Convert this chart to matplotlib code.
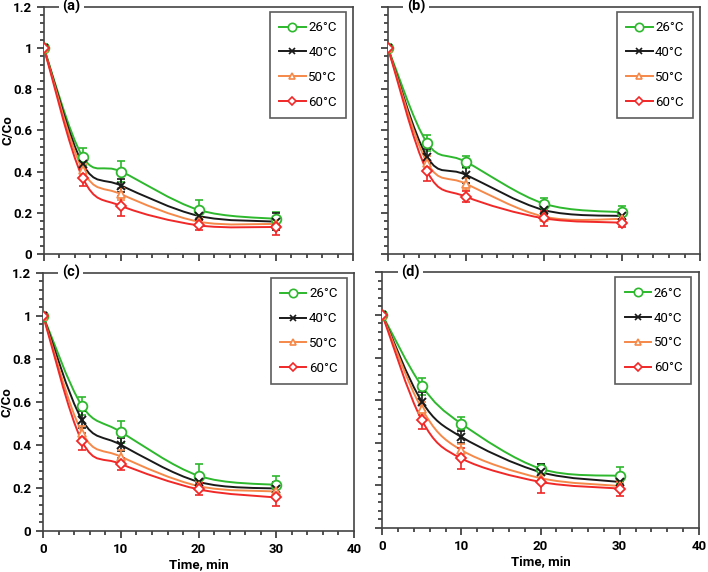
import numpy as np
import matplotlib
matplotlib.use("Agg")
import matplotlib.pyplot as plt
from matplotlib.path import Path
from matplotlib.patches import PathPatch
from matplotlib.ticker import MultipleLocator

plt.rcParams['font.family'] = ['Roboto', 'DejaVu Sans']
plt.rcParams['font.weight'] = 'bold'

# ---------------------------------------------------- data ------------------------------------------------------------
time = [0, 5, 10, 20, 30]
temps = ['26°C', '40°C', '50°C', '60°C']
panels = ['(a)', '(b)', '(c)', '(d)']

# C/Co values, one list per temperature, per panel
a_26 = [1, 0.473, 0.400, 0.214, 0.170]
a_40 = [1, 0.438, 0.332, 0.185, 0.157]
a_50 = [1, 0.409, 0.290, 0.157, 0.146]
a_60 = [1, 0.371, 0.233, 0.139, 0.131]

b_26 = [1, 0.540, 0.447, 0.244, 0.202]
b_40 = [1, 0.472, 0.384, 0.213, 0.184]
b_50 = [1, 0.444, 0.341, 0.181, 0.170]
b_60 = [1, 0.402, 0.278, 0.173, 0.152]

c_26 = [1, 0.581, 0.460, 0.256, 0.213]
c_40 = [1, 0.516, 0.400, 0.228, 0.196]
c_50 = [1, 0.457, 0.345, 0.208, 0.183]
c_60 = [1, 0.416, 0.311, 0.193, 0.155]

d_26 = [1, 0.666, 0.489, 0.278, 0.244]
d_40 = [1, 0.593, 0.427, 0.262, 0.216]
d_50 = [1, 0.559, 0.365, 0.234, 0.197]
d_60 = [1, 0.505, 0.326, 0.216, 0.185]

# error bars (+/-)
a_26_err = [0, 0.040, 0.050, 0.050, 0.035]
a_40_err = [0, 0.030, 0.030, 0.020, 0.040]
a_50_err = [0, 0.030, 0.030, 0.020, 0.020]
a_60_err = [0, 0.040, 0.048, 0.025, 0.040]

b_26_err = [0, 0.040, 0.030, 0.027, 0.032]
b_40_err = [0, 0.037, 0.040, 0.020, 0.025]
b_50_err = [0, 0.030, 0.030, 0.020, 0.020]
b_60_err = [0, 0.050, 0.028, 0.037, 0.020]

c_26_err = [0, 0.040, 0.050, 0.055, 0.040]
c_40_err = [0, 0.040, 0.030, 0.020, 0.030]
c_50_err = [0, 0.030, 0.030, 0.020, 0.020]
c_60_err = [0, 0.040, 0.030, 0.028, 0.040]

d_26_err = [0, 0.040, 0.030, 0.020, 0.040]
d_40_err = [0, 0.047, 0.030, 0.040, 0.020]
d_50_err = [0, 0.030, 0.030, 0.020, 0.020]
d_60_err = [0, 0.042, 0.050, 0.053, 0.037]

values = [[a_26, a_40, a_50, a_60], [b_26, b_40, b_50, b_60],
          [c_26, c_40, c_50, c_60], [d_26, d_40, d_50, d_60]]
errors = [[a_26_err, a_40_err, a_50_err, a_60_err], [b_26_err, b_40_err, b_50_err, b_60_err],
          [c_26_err, c_40_err, c_50_err, c_60_err], [d_26_err, d_40_err, d_50_err, d_60_err]]

colors = ['#2db82d', '#1a1a1a', '#f5894a', '#f02828']
markers = ['o', 'x', '^', 'D']
msizes = [7, 6, 6, 5]


def smooth_path(x, y):
    # Excel-like smoothed line: cubic Bezier through the points (Catmull-Rom tangents)
    p = np.column_stack([x, y]).astype(float)
    n = len(p)
    verts = [p[0]]
    codes = [Path.MOVETO]
    for i in range(n - 1):
        p0 = p[i - 1] if i > 0 else p[i]
        p3 = p[i + 2] if i + 2 < n else p[i + 1]
        c1 = p[i] + (p[i + 1] - p0) / 6.0
        c2 = p[i + 1] - (p3 - p[i]) / 6.0
        verts += [c1, c2, p[i + 1]]
        codes += [Path.CURVE4] * 3
    return Path(verts, codes)


fig = plt.figure(figsize=(7.08, 5.72), dpi=100)
rects = [[0.062, 0.556, 0.437, 0.432],
         [0.548, 0.556, 0.441, 0.432],
         [0.061, 0.072, 0.439, 0.451],
         [0.540, 0.077, 0.447, 0.447]]

for k in range(4):
    ax = fig.add_axes(rects[k])
    for j in range(4):
        y = values[k][j]
        ax.add_patch(PathPatch(smooth_path(time, y), fill=False, edgecolor=colors[j], lw=1.4, zorder=2 + j))
        ax.errorbar(time, y, yerr=errors[k][j], fmt='none', ecolor=colors[j], elinewidth=1.2,
                    capsize=3, capthick=1.2, zorder=2 + j)
        if markers[j] == 'x':
            ax.plot(time, y, ls='none', marker='x', ms=msizes[j], mew=1.4, color=colors[j], zorder=6 + j)
        else:
            ax.plot(time, y, ls='none', marker=markers[j], ms=msizes[j], mew=1.3, mec=colors[j],
                    mfc='white', zorder=6 + j)
        # legend handle
        ax.plot([], [], color=colors[j], lw=1.4, marker=markers[j], ms=msizes[j] - 1, mew=1.2,
                mec=colors[j], mfc='white', label=temps[j])

    ax.set_xlim(0, 40)
    ax.set_ylim(0, 1.2)
    ax.xaxis.set_major_locator(MultipleLocator(10))
    ax.xaxis.set_minor_locator(MultipleLocator(2))
    ax.yaxis.set_major_locator(MultipleLocator(0.2))
    ax.yaxis.set_minor_locator(MultipleLocator(0.04))
    ax.tick_params(which='both', direction='out', width=1.2, color='#333333')
    ax.tick_params(which='major', length=5)
    ax.tick_params(which='minor', length=3)
    ax.tick_params(labelsize=9.5)
    ax.yaxis.set_major_formatter(plt.FuncFormatter(lambda v, p: ('%g' % round(v, 2))))
    for s in ax.spines.values():
        s.set_linewidth(1.2)
        s.set_color('#444444')

    if k in (1, 3):
        ax.tick_params(labelleft=False)
    else:
        ax.set_ylabel('C/Co', fontsize=9.5, fontweight='bold')
        ax.yaxis.set_label_coords(-0.095, 0.5)
    if k in (0, 1):
        ax.tick_params(labelbottom=False)
    else:
        ax.set_xlabel('Time, min', fontsize=9.5, fontweight='bold', labelpad=2)

    ax.text(0.06, 1.0, panels[k], transform=ax.transAxes, fontsize=10.5, fontweight='bold',
            ha='left', va='center', zorder=20,
            bbox=dict(facecolor='white', edgecolor='none', pad=2.5))

    leg = ax.legend(loc='upper right', bbox_to_anchor=(0.985, 0.99), frameon=True,
                    prop={'size': 9.5, 'weight': 'normal'},
                    fancybox=False, edgecolor='#333333', handlelength=2.0, handletextpad=0.2,
                    labelspacing=0.9, borderpad=0.7, borderaxespad=0.2)
    leg.get_frame().set_linewidth(1.2)

fig.savefig('out.png', dpi=100)
